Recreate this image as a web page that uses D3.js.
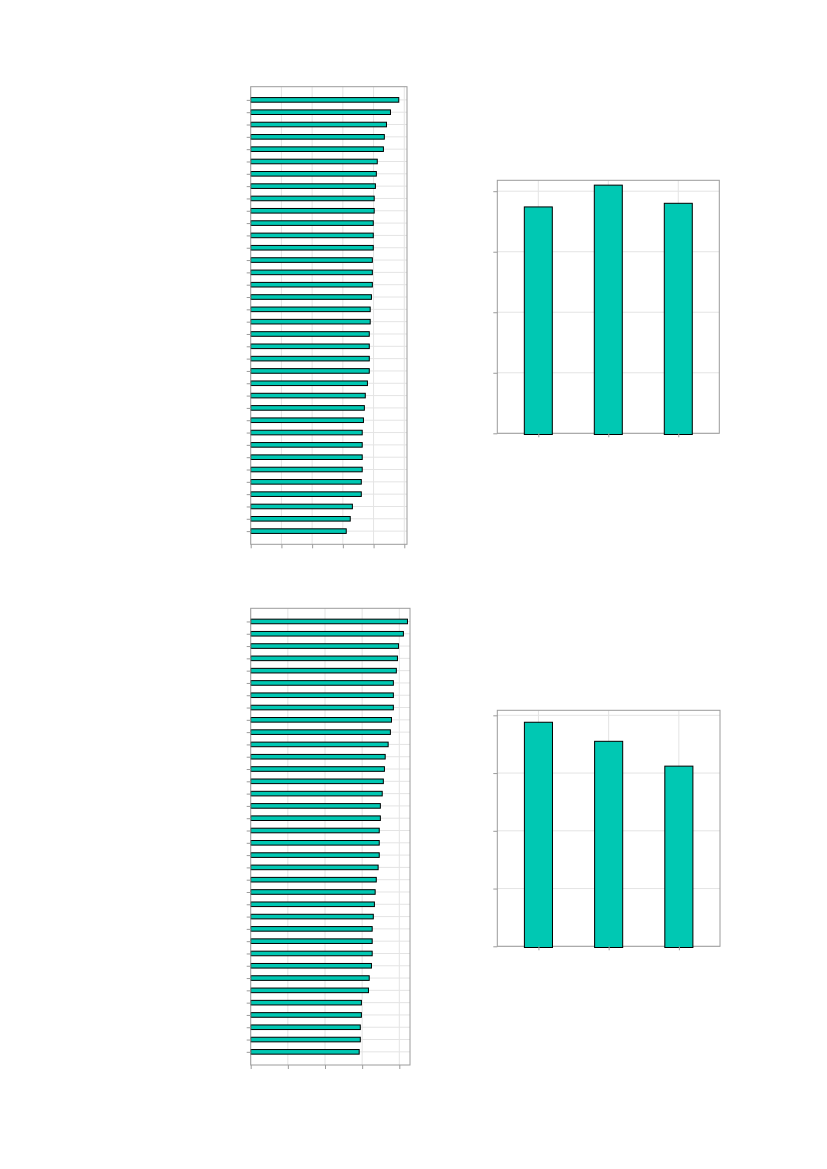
<!DOCTYPE html>
<html>
<head>
<meta charset="utf-8">
<script src="https://cdn.jsdelivr.net/npm/d3@7"></script>
<style>
  html, body { margin: 0; padding: 0; background: #fff; }
  svg { display: block; }
</style>
</head>
<body>
<svg id="chart" width="827" height="1169"></svg>
<script>
// ---- data ----
const itemsTop = d3.range(1, 37);
const valuesTopLeft = [4.82,4.55,4.42,4.35,4.32,4.12,4.09,4.06,4.02,4.02,3.99,3.99,3.99,3.96,3.96,3.96,3.93,3.89,3.89,3.86,3.86,3.86,3.86,3.80,3.73,3.70,3.67,3.63,3.63,3.63,3.63,3.60,3.60,3.31,3.24,3.11];
const itemsBottom = d3.range(1, 37);
const valuesBottomLeft = [4.22,4.11,3.98,3.95,3.92,3.84,3.84,3.84,3.79,3.76,3.70,3.62,3.60,3.57,3.54,3.49,3.49,3.46,3.46,3.46,3.43,3.38,3.35,3.33,3.30,3.27,3.27,3.27,3.25,3.19,3.17,2.98,2.98,2.95,2.95,2.92];
const groups = ["A", "B", "C"];
const valuesTopRight = [3.74, 4.10, 3.80];
const valuesBottomRight = [3.88, 3.55, 3.12];
const xTicksTopLeft = [0, 1, 2, 3, 4, 5];
const xTicksBottomLeft = [0, 1, 2, 3, 4];
const yTicksRight = [0, 1, 2, 3, 4];

// ---- style ----
const FILL = "#00C8B3";
const GRID = "#E4E4E4";
const BORDER = "#9C9C9C";
const TICK = "#9C9C9C";

const svg = d3.select("#chart");
svg.append("rect").attr("width", 827).attr("height", 1169).attr("fill", "#fff");

function horizontalPanel(cfg) {
  const g = svg.append("g");
  const x = d3.scaleLinear().domain([0, cfg.xmax]).range([cfg.left, cfg.right]);
  const y = d3.scalePoint().domain(cfg.items).range([cfg.top, cfg.bottom]).padding(1.07);
  // grid
  g.selectAll(".vg").data(cfg.xticks).join("line")
    .attr("x1", d => x(d)).attr("x2", d => x(d))
    .attr("y1", cfg.top).attr("y2", cfg.bottom)
    .attr("stroke", GRID).attr("stroke-width", 1);
  g.selectAll(".hg").data(cfg.items).join("line")
    .attr("x1", cfg.left).attr("x2", cfg.right)
    .attr("y1", d => y(d)).attr("y2", d => y(d))
    .attr("stroke", GRID).attr("stroke-width", 1);
  // bars
  const bh = 4.6;
  g.selectAll(".bar").data(cfg.values).join("rect")
    .attr("x", x(0))
    .attr("y", (d, i) => y(cfg.items[i]) - bh / 2)
    .attr("width", d => x(d) - x(0))
    .attr("height", bh)
    .attr("fill", FILL).attr("stroke", "#000").attr("stroke-width", 1);
  // border
  g.append("rect").attr("x", cfg.left).attr("y", cfg.top)
    .attr("width", cfg.right - cfg.left).attr("height", cfg.bottom - cfg.top)
    .attr("fill", "none").attr("stroke", BORDER).attr("stroke-width", 1);
  // axes ticks (no labels)
  const ax = d3.axisBottom(x).tickValues(cfg.xticks).tickSize(4).tickFormat("");
  const gx = g.append("g").attr("transform", `translate(0,${cfg.bottom})`).call(ax);
  gx.select(".domain").remove();
  gx.selectAll("line").attr("stroke", TICK);
  const ay = d3.axisLeft(y).tickSize(4).tickFormat("");
  const gy = g.append("g").attr("transform", `translate(${cfg.left},0)`).call(ay);
  gy.select(".domain").remove();
  gy.selectAll("line").attr("stroke", TICK);
}

function verticalPanel(cfg) {
  const g = svg.append("g");
  const x = d3.scalePoint().domain(cfg.groups).range([cfg.left, cfg.right]).padding(0.586);
  const y = d3.scaleLinear().domain([0, cfg.ymax]).range([cfg.bottom, cfg.top]);
  g.selectAll(".hg").data(cfg.yticks).join("line")
    .attr("x1", cfg.left).attr("x2", cfg.right)
    .attr("y1", d => y(d)).attr("y2", d => y(d))
    .attr("stroke", GRID).attr("stroke-width", 1);
  g.selectAll(".vg").data(cfg.groups).join("line")
    .attr("x1", d => x(d)).attr("x2", d => x(d))
    .attr("y1", cfg.top).attr("y2", cfg.bottom)
    .attr("stroke", GRID).attr("stroke-width", 1);
  g.append("rect").attr("x", cfg.left).attr("y", cfg.top)
    .attr("width", cfg.right - cfg.left).attr("height", cfg.bottom - cfg.top)
    .attr("fill", "none").attr("stroke", BORDER).attr("stroke-width", 1);
  const bw = x.step() * 0.4;
  g.selectAll(".bar").data(cfg.values).join("rect")
    .attr("x", (d, i) => x(cfg.groups[i]) - bw / 2)
    .attr("y", d => y(d))
    .attr("width", bw)
    .attr("height", d => y(0) - y(d) + 1.2)
    .attr("fill", FILL).attr("stroke", "#000").attr("stroke-width", 1);
  const ax = d3.axisBottom(x).tickSize(4).tickFormat("");
  const gx = g.append("g").attr("transform", `translate(0,${cfg.bottom})`).call(ax);
  gx.select(".domain").remove();
  gx.selectAll("line").attr("stroke", TICK);
  const ay = d3.axisLeft(y).tickValues(cfg.yticks).tickSize(4).tickFormat("");
  const gy = g.append("g").attr("transform", `translate(${cfg.left},0)`).call(ay);
  gy.select(".domain").remove();
  gy.selectAll("line").attr("stroke", TICK);
}

horizontalPanel({ items: itemsTop, values: valuesTopLeft, xticks: xTicksTopLeft, xmax: 5.088,
  left: 250.7, right: 407, top: 86.7, bottom: 544.3 });
horizontalPanel({ items: itemsBottom, values: valuesBottomLeft, xticks: xTicksBottomLeft, xmax: 4.288,
  left: 250.7, right: 410, top: 608.3, bottom: 1065 });
verticalPanel({ groups: groups, values: valuesTopRight, yticks: yTicksRight, ymax: 4.18,
  left: 497.3, right: 719.3, top: 180.3, bottom: 433.3 });
verticalPanel({ groups: groups, values: valuesBottomRight, yticks: yTicksRight, ymax: 4.087,
  left: 497.3, right: 720, top: 710.3, bottom: 946.3 });
</script>
</body>
</html>
